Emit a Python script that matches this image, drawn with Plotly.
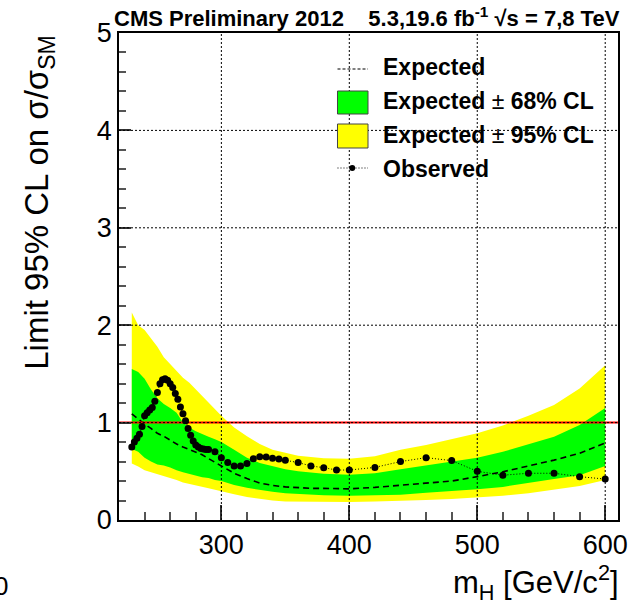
import plotly.graph_objects as go

# ---------------- data ----------------
obs_mass = [230, 232, 234, 236, 238, 240, 242, 244, 246, 248, 250, 252, 254, 256, 258,
            260, 262, 264, 266, 268, 270, 272, 274, 276, 278, 280, 282, 284, 286, 288,
            290, 295, 300, 305, 310, 315, 320, 325, 330, 335, 340, 345, 350,
            360, 370, 380, 390, 400, 420, 440, 460, 480, 500, 520, 540, 560, 580, 600]
obs_limit = [0.75, 0.80, 0.84, 0.88, 0.96, 1.07, 1.10, 1.13, 1.155, 1.22, 1.31, 1.40, 1.44, 1.45, 1.435,
             1.40, 1.36, 1.30, 1.24, 1.16, 1.09, 1.02, 0.94, 0.87, 0.81, 0.77, 0.75, 0.735, 0.73, 0.725,
             0.725, 0.70, 0.64, 0.59, 0.555, 0.555, 0.58, 0.63, 0.65, 0.647, 0.633, 0.626, 0.613,
             0.59, 0.555, 0.537, 0.513, 0.513, 0.54, 0.60, 0.64, 0.61, 0.50, 0.46, 0.48, 0.48, 0.445, 0.42]

exp_mass = [230, 235, 240, 245, 250, 255, 260, 265, 270, 275, 280, 285, 290, 295, 300,
            310, 320, 330, 340, 350, 360, 370, 380, 390, 400, 420, 440, 460, 480, 500,
            520, 540, 560, 580, 600]
exp_limit = [1.09, 1.035, 0.985, 0.94, 0.89, 0.86, 0.82, 0.78, 0.75, 0.725, 0.70, 0.67, 0.63, 0.59, 0.555,
             0.48, 0.425, 0.38, 0.355, 0.34, 0.33, 0.325, 0.325, 0.32, 0.32, 0.335, 0.355, 0.377, 0.40, 0.445,
             0.495, 0.555, 0.615, 0.685, 0.79]

band_mass = [230, 235, 240, 245, 250, 255, 260, 265, 270, 275, 280, 285, 290, 295, 300,
             310, 320, 330, 340, 350, 360, 380, 400, 420, 440, 460, 480, 500, 520, 540, 560, 580, 600]
band95_hi = [2.13, 2.00, 1.95, 1.86, 1.78, 1.67, 1.60, 1.53, 1.46, 1.41, 1.34, 1.28, 1.20, 1.13, 1.07,
             0.95, 0.86, 0.78, 0.72, 0.69, 0.66, 0.635, 0.63, 0.655, 0.72, 0.77, 0.83, 0.89, 0.97, 1.07, 1.18, 1.35, 1.59]
band68_hi = [1.55, 1.52, 1.45, 1.34, 1.25, 1.19, 1.15, 1.10, 1.00, 0.95, 0.91, 0.88, 0.855, 0.83, 0.80,
             0.72, 0.64, 0.585, 0.55, 0.52, 0.50, 0.475, 0.465, 0.48, 0.52, 0.56, 0.60, 0.64, 0.70, 0.78, 0.855, 0.975, 1.15]
band68_lo = [0.73, 0.70, 0.64, 0.60, 0.57, 0.56, 0.54, 0.51, 0.49, 0.47, 0.455, 0.44, 0.43, 0.41, 0.40,
             0.36, 0.33, 0.31, 0.29, 0.275, 0.265, 0.255, 0.25, 0.255, 0.26, 0.28, 0.30, 0.315, 0.34, 0.38, 0.42, 0.46, 0.555]
band95_lo = [0.58, 0.55, 0.51, 0.495, 0.475, 0.45, 0.43, 0.41, 0.385, 0.37, 0.35, 0.34, 0.325, 0.31, 0.30,
             0.265, 0.235, 0.215, 0.20, 0.19, 0.185, 0.185, 0.185, 0.19, 0.195, 0.205, 0.215, 0.23, 0.25, 0.275, 0.31, 0.35, 0.41]

x_ticks = [300, 400, 500, 600]
x_tick_labels = ["300", "400", "500", "600"]
y_ticks = [0, 1, 2, 3, 4, 5]
y_tick_labels = ["0", "1", "2", "3", "4", "5"]
sm_reference = 1.0

legend_labels = ["<b>Expected</b>", "<b>Expected</b> ± <b>68% CL</b>",
                 "<b>Expected</b> ± <b>95% CL</b>", "<b>Observed</b>"]

# ---------------- geometry ----------------
W, H = 640, 606
L, R, T, B = 119, 626, 33, 520
FONT = "Liberation Sans, Arial, Helvetica, sans-serif"


def xp(px):
    return (px - L) / (R - L)


def yp(py):
    return (B - py) / (B - T)


fig = go.Figure()

fig.add_trace(go.Scatter(
    x=band_mass + band_mass[::-1], y=band95_hi + band95_lo[::-1],
    fill="toself", fillcolor="#ffff00", line=dict(width=0), mode="lines",
    hoverinfo="skip", showlegend=False))
fig.add_trace(go.Scatter(
    x=band_mass + band_mass[::-1], y=band68_hi + band68_lo[::-1],
    fill="toself", fillcolor="#00ff00", line=dict(width=0), mode="lines",
    hoverinfo="skip", showlegend=False))
fig.add_trace(go.Scatter(
    x=exp_mass, y=exp_limit, mode="lines",
    line=dict(color="black", width=1.6, dash="6px,4px"), showlegend=False))
fig.add_trace(go.Scatter(
    x=[220, 610], y=[sm_reference, sm_reference], mode="lines",
    line=dict(color="red", width=2), showlegend=False))
fig.add_trace(go.Scatter(
    x=obs_mass, y=obs_limit, mode="lines+markers",
    line=dict(color="black", width=1, dash="1px,2px"),
    marker=dict(color="black", size=7), showlegend=False))

shapes = []
# grid lines drawn above the bands (as in ROOT)
for v in x_ticks:
    shapes.append(dict(type="line", xref="x", yref="paper", x0=v, x1=v, y0=0, y1=1,
                       line=dict(color="black", width=1, dash="2px,2px"), layer="above"))
for v in y_ticks[1:-1]:
    shapes.append(dict(type="line", xref="paper", yref="y", x0=0, x1=1, y0=v, y1=v,
                       line=dict(color="black", width=1, dash="2px,2px"), layer="above"))

# legend symbols
lx0, lx1 = 341, 372
shapes.append(dict(type="line", xref="paper", yref="paper", x0=xp(lx0), x1=xp(lx1),
                   y0=yp(69), y1=yp(69), line=dict(color="black", width=1.2, dash="3px,2px")))
shapes.append(dict(type="rect", xref="paper", yref="paper", x0=xp(lx0), x1=xp(lx1),
                   y0=yp(114), y1=yp(91), fillcolor="#00ff00", line=dict(color="#444", width=1)))
shapes.append(dict(type="rect", xref="paper", yref="paper", x0=xp(lx0), x1=xp(lx1),
                   y0=yp(148), y1=yp(124), fillcolor="#ffff00", line=dict(color="#444", width=1)))
shapes.append(dict(type="line", xref="paper", yref="paper", x0=xp(lx0), x1=xp(lx1),
                   y0=yp(168), y1=yp(168), line=dict(color="black", width=1, dash="1px,2px")))
shapes.append(dict(type="circle", xref="paper", yref="paper", x0=xp(353), x1=xp(359),
                   y0=yp(171), y1=yp(165), fillcolor="black", line=dict(color="black", width=0)))

annotations = []
for lab, cy in zip(legend_labels, [67, 101, 135, 169]):
    annotations.append(dict(text=lab, xref="paper", yref="paper", x=xp(385), y=yp(cy),
                            xanchor="left", yanchor="middle", showarrow=False,
                            font=dict(family=FONT, size=23, color="black")))

annotations.append(dict(
    text="<b>CMS Preliminary 2012\u00a0\u00a0\u00a0 5.3,19.6 fb<sup>-1</sup> √s = 7,8 TeV</b>",
    xref="paper", yref="paper", x=xp(112), y=yp(17), xanchor="left", yanchor="middle",
    showarrow=False, font=dict(family=FONT, size=22, color="black")))
annotations.append(dict(
    text="Limit 95% CL on σ/σ<sub>SM</sub>", textangle=-90,
    xref="paper", yref="paper", x=xp(37), y=1.0, xanchor="center", yanchor="top",
    showarrow=False, font=dict(family=FONT, size=33, color="black")))
annotations.append(dict(
    text="m<sub>H</sub> [GeV/c<sup>2</sup>]",
    xref="paper", yref="paper", x=xp(629), y=yp(582), xanchor="right", yanchor="middle",
    showarrow=False, font=dict(family=FONT, size=31, color="black")))
annotations.append(dict(
    text="0", xref="paper", yref="paper", x=xp(8), y=yp(586), xanchor="right", yanchor="middle",
    showarrow=False, font=dict(family=FONT, size=26, color="black")))

fig.update_layout(
    width=W, height=H,
    margin=dict(l=L, r=W - R, t=T, b=H - B, pad=0),
    paper_bgcolor="white", plot_bgcolor="white",
    shapes=shapes, annotations=annotations, showlegend=False,
    font=dict(family=FONT, color="black"),
)
fig.update_xaxes(
    range=[220, 610], tickmode="array", tickvals=x_ticks, ticktext=x_tick_labels,
    ticks="inside", ticklen=15, tickwidth=1.5, tickcolor="#333",
    minor=dict(tickmode="linear", tick0=0, dtick=20, ticks="inside", ticklen=8,
               tickwidth=1.5, tickcolor="#555", showgrid=False),
    showline=True, linecolor="black", linewidth=1.5, mirror=True,
    showgrid=False, zeroline=False, layer="above traces",
    tickfont=dict(family=FONT, size=27, color="black"),
)
fig.update_yaxes(
    range=[0, 5], tickmode="array", tickvals=y_ticks, ticktext=y_tick_labels,
    ticks="inside", ticklen=12, tickwidth=1.5, tickcolor="#333",
    minor=dict(tickmode="linear", tick0=0, dtick=0.2, ticks="inside", ticklen=7,
               tickwidth=1.5, tickcolor="#555", showgrid=False),
    showline=True, linecolor="black", linewidth=1.5, mirror=True,
    showgrid=False, zeroline=False, layer="above traces",
    tickfont=dict(family=FONT, size=27, color="black"),
)

fig.write_html("out.html")
